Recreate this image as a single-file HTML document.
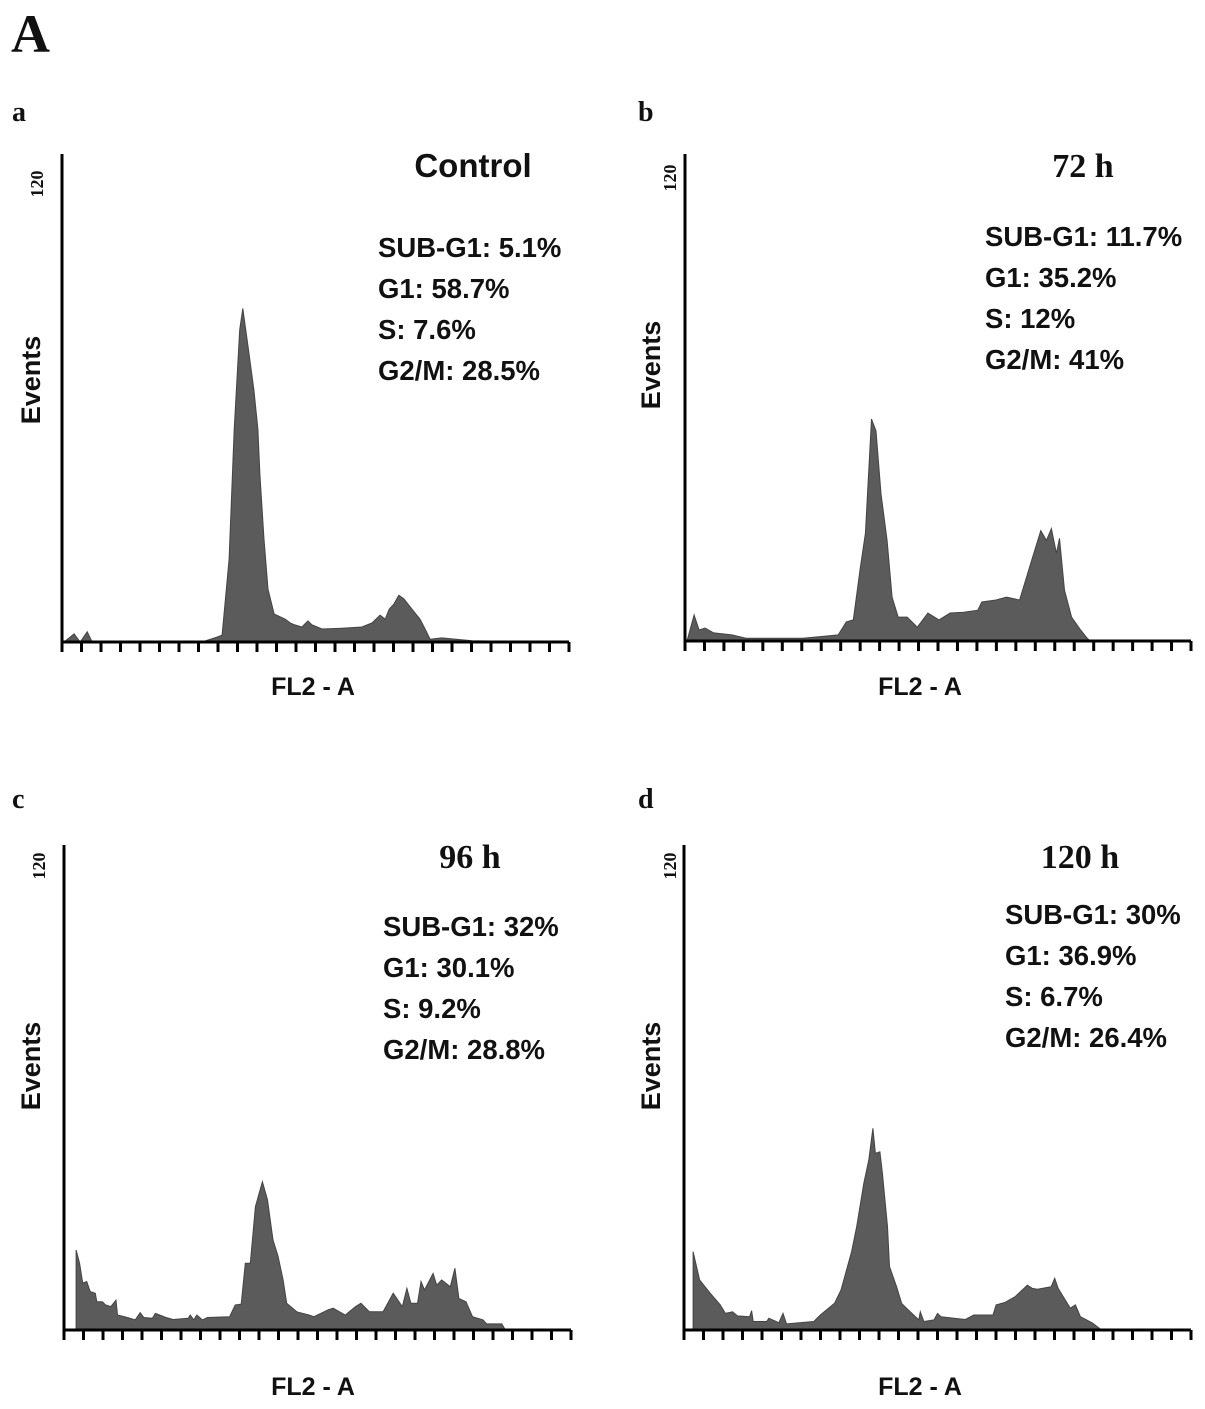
<!DOCTYPE html>
<html><head><meta charset="utf-8">
<style>
html,body{margin:0;padding:0;background:#fff;}
svg{display:block;}
.sans{font-family:"Liberation Sans",sans-serif;font-weight:bold;fill:#111;}
.serif{font-family:"Liberation Serif",serif;font-weight:bold;fill:#111;}
</style></head>
<body>
<svg id="fig" width="1205" height="1409" viewBox="0 0 1205 1409" xmlns="http://www.w3.org/2000/svg">
<text class="serif" x="11" y="52" font-size="54">A</text>
</svg>
<script>
// channel (0-1000 across axis), counts (0-120)
const chA = [0,20,32,46,55,75,273,303,313,327,337,348,354,364,376,384,388,396,404,416,438,448,457,471,483,491,511,550,590,610,626,636,644,653,663,673,689,705,717,725,748,808,1000];
const cntA = [0,2,0,2.5,0.2,0,0,1.2,1.7,20.4,52.3,76.8,82,73.1,62,52.3,41.2,25.3,13,6.9,5.6,4.7,4.2,3.7,5.2,4.2,3.2,3.4,3.7,4.7,6.6,5.6,8.1,9.3,11.5,10.6,8.1,5.6,2.7,0.7,1,0.3,0];
const chB = [0,14,24,36,53,89,117,229,259,300,316,330,344,354,366,375,385,397,407,419,437,457,478,500,522,549,577,585,613,634,660,684,702,713,723,733,739,749,763,781,794,800,1000];
const cntB = [0,6.4,2.7,3.2,2,1.5,0.7,0.7,1,1.5,4.7,5.2,18.2,26.5,54.7,51.8,36.3,24.8,10.8,5.9,5.9,3.4,6.9,5.2,6.9,7.1,7.6,9.6,10.1,10.8,10.1,19.9,27.2,24.8,27.7,21.6,25.3,12.5,5.9,2.7,0.7,0,0];
const chC = [20,20,27,33,41,48,58,61,72,78,89,99,102,116,137,147,154,171,177,198,212,242,246,253,259,270,280,324,335,347,355,365,375,389,399,410,420,430,437,457,481,491,519,529,553,573,584,601,628,648,666,675,683,696,703,710,727,734,744,761,770,778,792,805,826,833,863,870];
const cntC = [0,19.8,16.5,11.6,12,9.5,9.1,7,7,6.2,5.8,7.4,3.7,3.3,2.5,4.3,3.1,2.9,4.1,3.1,2.6,2.9,3.7,2.5,3.7,2.5,3.1,3.3,6.2,6.4,16.5,16.5,30.5,36.7,32.2,22.3,18.2,12.4,6.6,4.5,3.7,3.3,5,5.4,3.7,5.8,6.6,4.5,4.5,9.1,5.8,10.3,6.6,6.6,12,9.9,14,11.1,12.4,10.7,15.3,7.8,7,3.3,2.5,1.5,1.5,0];
const chD = [14,14,27,48,68,78,92,102,126,130,133,160,164,184,192,199,253,266,294,307,328,338,352,362,370,375,384,389,399,403,417,427,444,461,464,471,491,498,505,553,570,608,614,631,652,676,686,696,723,730,737,761,771,781,805,823];
const cntD = [0,19.4,12.4,9.1,6.2,4.1,4.5,3.5,3.3,4.8,2.1,2.1,2.9,1.8,4.1,1.5,2.1,3.7,6.6,9.9,19.4,25.6,36.3,42.1,49.9,43.7,44.1,38.8,25.6,15.7,10.7,6.6,4.5,2.5,4.5,2.1,2.5,4.1,3.3,2.6,3.7,3.7,6.2,6.8,8.3,11.1,10.3,10.1,10.7,12.8,10.3,5.4,6.2,3.3,1.7,0];
const titles = ["Control","72 h","96 h","120 h"];
const statsA = ["SUB-G1: 5.1%","G1: 58.7%","S: 7.6%","G2/M: 28.5%"];
const statsB = ["SUB-G1: 11.7%","G1: 35.2%","S: 12%","G2/M: 41%"];
const statsC = ["SUB-G1: 32%","G1: 30.1%","S: 9.2%","G2/M: 28.8%"];
const statsD = ["SUB-G1: 30%","G1: 36.9%","S: 6.7%","G2/M: 26.4%"];
const letters = ["a","b","c","d"];
const yMaxLabel = "120";

const NS="http://www.w3.org/2000/svg";
const svg=document.getElementById('fig');
function mk(tag,attrs,parent){const e=document.createElementNS(NS,tag);for(const k in attrs)e.setAttribute(k,attrs[k]);(parent||svg).appendChild(e);return e;}

const panels=[
 {ch:chA,cnt:cntA,stats:statsA,x0:62,x1:569,top:154,base:642,lx:12,ly:121,tx:473,ty:177,tf:"sans",sx:378,sy:257,ex:40,ey:380,nx:43,ny:184,fx:313,fy:695},
 {ch:chB,cnt:cntB,stats:statsB,x0:685,x1:1191,top:154,base:641,lx:638,ly:121,tx:1083,ty:177,tf:"serif",sx:985,sy:246,ex:660,ey:365,nx:676,ny:178,fx:920,fy:695},
 {ch:chC,cnt:cntC,stats:statsC,x0:64,x1:571,top:845,base:1330,lx:12,ly:808,tx:470,ty:868,tf:"serif",sx:383,sy:936,ex:40,ey:1066,nx:45,ny:866,fx:313,fy:1395},
 {ch:chD,cnt:cntD,stats:statsD,x0:684,x1:1191,top:845,base:1330,lx:638,ly:808,tx:1080,ty:868,tf:"serif",sx:1005,sy:924,ex:660,ey:1066,nx:676,ny:866,fx:920,fy:1395}
];
panels.forEach((p,i)=>{
  const g=mk('g',{});
  
  
  const xs=c=>p.x0+2+c/1000*(p.x1-p.x0-2);
  const ys=v=>p.base-v/120*(p.base-p.top);
  let d='M'+xs(p.ch[0])+' '+p.base;
  p.ch.forEach((c,j)=>{d+=' L'+xs(c).toFixed(1)+' '+ys(p.cnt[j]).toFixed(1);});
  d+=' L'+xs(p.ch[p.ch.length-1])+' '+p.base+' Z';
  const path=mk('path',{d:d,fill:'#5b5b5b',stroke:'#444','stroke-width':1},g);
  
  
  const ya=mk('line',{x1:p.x0,y1:p.top,x2:p.x0,y2:p.base+1,stroke:'#000','stroke-width':3},g);
  
  
  const xa=mk('line',{x1:p.x0-1,y1:p.base,x2:p.x1,y2:p.base,stroke:'#000','stroke-width':3},g);
  
  
  for(let t=0;t<27;t++){
    const tx=p.x0+t*(p.x1-p.x0)/26;
    const tk=mk('line',{x1:tx,y1:p.base,x2:tx,y2:p.base+10,stroke:'#000','stroke-width':3},g);
    
    
  }
  const L=mk('text',{x:p.lx,y:p.ly,'font-size':28,class:'serif'},g);L.textContent=letters[i];
  
  
  const T=mk('text',{x:p.tx,y:p.ty,'font-size':p.tf=='sans'?33:34,class:p.tf,'text-anchor':'middle'},g);T.textContent=titles[i];
  
  
  p.stats.forEach((s,k)=>{
    const S=mk('text',{x:p.sx,y:p.sy+k*41,'font-size':27.5,class:'sans'},g);S.textContent=s;
    
    
  });
  const E=mk('text',{x:p.ex,y:p.ey,'font-size':27,class:'sans','text-anchor':'middle',transform:'rotate(-90 '+p.ex+' '+p.ey+')'},g);E.textContent='Events';
  
  
  const N=mk('text',{x:p.nx,y:p.ny,'font-size':18,class:'serif','text-anchor':'middle',transform:'rotate(-90 '+p.nx+' '+p.ny+')'},g);N.textContent=yMaxLabel;
  
  
  const F=mk('text',{x:p.fx,y:p.fy,'font-size':25,class:'sans','text-anchor':'middle'},g);F.textContent='FL2 - A';
  
  
});
</script>
</body></html>
